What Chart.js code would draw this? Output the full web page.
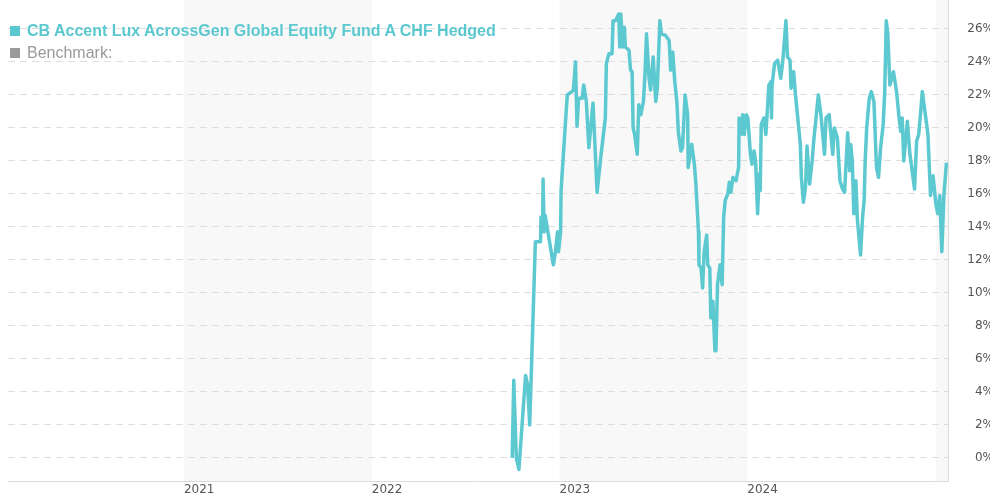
<!DOCTYPE html>
<html lang="en">
<head>
    <meta charset="UTF-8">
    <title>CB Accent Lux AcrossGen Global Equity Fund A CHF Hedged</title>
    <script src="https://cdn.jsdelivr.net/npm/chart.js"></script>
    <style>
        html, body {
            margin: 0;
            padding: 0;
            background: #fff;
            overflow: hidden;
        }

        .chart-wrap {
            position: relative;
            width: 994px;
            height: 500px;
        }

        /* Legend sits on top of the plot area */
        .legend {
            position: absolute;
            left: 10px;
            top: 20px;
            font-family: "Liberation Sans", Arial, sans-serif;
            font-size: 16px;
            line-height: 22px;
        }

        .legend .item { white-space: nowrap; }
        .legend .box {
            display: inline-block;
            width: 10px;
            height: 10px;
            margin-right: 7px;
            vertical-align: 0px;
        }
        .legend .fund { color: #5bc8d0; font-weight: bold; }
        .legend .fund .box { background: #5bc8d0; }
        .legend .bench { color: #9a9a9a; }
        .legend .bench .box { background: #9a9a9a; }
    </style>
</head>
<body>
    <div class="chart-wrap">
        <canvas id="perfChart"></canvas>
        <div class="legend">
            <div class="item fund"><span class="box"></span>CB Accent Lux AcrossGen Global Equity Fund A CHF Hedged</div>
            <div class="item bench"><span class="box"></span>Benchmark:</div>
        </div>
    </div>

    <script>
        // performance since launch, in %
        const fundDates = [
            '2022-10-01','2022-10-04','2022-10-09','2022-10-14','2022-10-27','2022-10-31','2022-11-04','2022-11-15',
            '2022-11-25','2022-11-26','2022-11-29','2022-11-30','2022-12-02','2022-12-04','2022-12-20','2022-12-24',
            '2022-12-28','2022-12-30',
            '2023-01-03','2023-01-04','2023-01-06','2023-01-16','2023-01-25','2023-01-28','2023-02-01','2023-02-04',
            '2023-02-07','2023-02-14','2023-02-17','2023-02-22','2023-02-27','2023-03-07','2023-03-15','2023-03-22',
            '2023-03-31','2023-04-02','2023-04-07','2023-04-13','2023-04-15','2023-04-20','2023-04-26','2023-04-28',
            '2023-04-30','2023-05-04','2023-05-07','2023-05-09','2023-05-16','2023-05-19','2023-05-22','2023-05-24',
            '2023-05-27','2023-06-01','2023-06-04','2023-06-08','2023-06-13','2023-06-16','2023-06-19','2023-06-24',
            '2023-06-27','2023-07-02','2023-07-07','2023-07-10','2023-07-15','2023-07-18','2023-07-26','2023-08-02',
            '2023-08-05','2023-08-09','2023-08-13','2023-08-17','2023-08-20','2023-08-25','2023-08-28','2023-09-02',
            '2023-09-07','2023-09-08','2023-09-15','2023-09-20','2023-09-23','2023-09-28','2023-09-29','2023-10-03',
            '2023-10-06','2023-10-09','2023-10-14','2023-10-16','2023-10-20','2023-10-22','2023-10-26','2023-10-30',
            '2023-11-01','2023-11-04','2023-11-09','2023-11-13','2023-11-16','2023-11-19','2023-11-24','2023-11-27',
            '2023-11-30','2023-12-04','2023-12-10','2023-12-15','2023-12-16','2023-12-20','2023-12-23','2023-12-26',
            '2023-12-30',
            '2024-01-02','2024-01-07','2024-01-10','2024-01-14','2024-01-17','2024-01-21','2024-01-24','2024-01-26',
            '2024-01-28','2024-02-02','2024-02-06','2024-02-12','2024-02-16','2024-02-17','2024-02-18','2024-02-23',
            '2024-02-29','2024-03-06','2024-03-10','2024-03-12','2024-03-16','2024-03-19','2024-03-24','2024-03-26',
            '2024-03-31','2024-04-03','2024-04-08','2024-04-13','2024-04-15','2024-04-19','2024-04-23','2024-04-26',
            '2024-05-01','2024-05-06','2024-05-09','2024-05-18','2024-05-23','2024-05-30','2024-06-02','2024-06-08',
            '2024-06-15','2024-06-18','2024-06-24','2024-06-29','2024-07-04','2024-07-08','2024-07-14','2024-07-18',
            '2024-07-20','2024-07-23','2024-07-26','2024-07-30','2024-08-02','2024-08-08','2024-08-12','2024-08-15',
            '2024-08-17','2024-08-20','2024-08-25','2024-08-29','2024-09-03','2024-09-08','2024-09-12','2024-09-16',
            '2024-09-21','2024-09-24','2024-09-27','2024-09-30','2024-10-04','2024-10-11','2024-10-17','2024-10-22',
            '2024-10-25','2024-10-28','2024-10-31','2024-11-07','2024-11-12','2024-11-21','2024-11-25','2024-11-29',
            '2024-12-03','2024-12-06','2024-12-12','2024-12-17','2024-12-22','2024-12-27',
            '2025-01-01','2025-01-05','2025-01-09','2025-01-13','2025-01-17','2025-01-22'
        ];

        const fundValues = [
            0.0, 4.7, 0.0, -0.7, 5.0, 4.4, 2.0, 13.1,
            13.1, 14.6, 13.7, 16.9, 13.7, 14.7, 11.7, 12.5,
            13.7, 12.5,
            13.7, 16.2, 17.2, 22.0, 22.2, 22.3, 24.0, 20.1,
            21.8, 21.8, 22.6, 21.6, 18.8, 21.5, 16.1, 18.2,
            20.6, 23.9, 24.5, 24.5, 26.5, 26.5, 26.9, 24.9,
            26.9, 24.9, 26.1, 24.9, 24.7, 23.5, 23.4, 20.0,
            19.6, 18.4, 21.4, 20.8, 21.6, 23.2, 25.7, 23.0,
            22.3, 24.3, 21.6, 22.4, 26.5, 25.7, 25.6, 25.3,
            23.5, 24.6, 22.8, 21.6, 19.7, 18.6, 18.8, 22.0,
            20.8, 17.6, 19.0, 17.8, 16.6, 13.7, 11.7, 11.5,
            10.3, 12.5, 13.5, 11.7, 11.5, 8.5, 9.5, 6.5,
            6.5, 10.5, 11.7, 10.5, 14.6, 15.6, 16.0, 16.7,
            16.1, 17.0, 16.8, 17.6, 20.6, 19.6, 20.8, 19.6,
            20.8,
            20.6, 18.4, 17.8, 18.6, 18.0, 14.8, 17.2, 16.2,
            20.2, 20.6, 19.6, 22.6, 22.8, 20.6, 22.6, 23.9,
            24.1, 23.0, 24.1, 24.9, 26.5, 24.3, 24.1, 22.4,
            23.4, 22.2, 20.6, 19.0, 17.0, 15.5, 16.4, 18.9,
            16.6, 18.0, 19.2, 22.0, 20.8, 18.4, 20.6, 20.8,
            18.4, 20.0, 19.4, 16.8, 16.3, 16.1, 19.7, 17.4,
            19.0, 18.0, 14.8, 16.8, 14.4, 12.3, 14.6, 15.6,
            18.0, 20.0, 21.8, 22.2, 21.6, 17.6, 17.0, 18.8,
            20.2, 22.2, 26.5, 25.7, 22.6, 23.4, 22.2, 20.6,
            19.8, 20.6, 18.0, 20.4, 18.4, 16.3, 19.2, 19.6,
            21.0, 22.2, 20.8, 19.6, 15.9, 17.1,
            15.5, 14.8, 15.9, 12.5, 15.9, 17.9
        ];

        const yTicks = [0, 2, 4, 6, 8, 10, 12, 14, 16, 18, 20, 22, 24, 26];
        const xTickYears = [2021, 2022, 2023, 2024];
        const shadedYears = [2021, 2023, 2025];

        const rangeStart = Date.parse('2020-01-25');
        const rangeEnd = Date.parse('2025-01-25');

        const lineColor = '#5cc8d0';

        // alternating light grey year bands behind the grid
        const yearBands = {
            id: 'yearBands',
            beforeDraw(chart) {
                const { ctx, chartArea, scales: { x } } = chart;
                ctx.save();
                ctx.fillStyle = '#f8f8f8';
                shadedYears.forEach(year => {
                    let x0 = x.getPixelForValue(Date.UTC(year, 0, 1));
                    let x1 = x.getPixelForValue(Date.UTC(year + 1, 0, 1));
                    x0 = Math.max(x0, chartArea.left);
                    x1 = Math.min(x1, chartArea.right);
                    if (x1 > x0) ctx.fillRect(x0, chartArea.top, x1 - x0, chartArea.bottom - chartArea.top);
                });
                ctx.restore();
            },
            afterDraw(chart) {
                // right frame line
                const { ctx, chartArea } = chart;
                ctx.save();
                ctx.strokeStyle = '#dcdcdc';
                ctx.lineWidth = 1;
                ctx.beginPath();
                ctx.moveTo(Math.round(chartArea.right) + 0.5, chartArea.top);
                ctx.lineTo(Math.round(chartArea.right) + 0.5, chartArea.bottom);
                ctx.stroke();
                ctx.restore();
            }
        };

        const points = fundDates.map((d, i) => ({ x: Date.parse(d), y: fundValues[i] }));

        new Chart(document.getElementById('perfChart'), {
            type: 'line',
            data: {
                datasets: [{
                    label: 'CB Accent Lux AcrossGen Global Equity Fund A CHF Hedged',
                    data: points,
                    borderColor: lineColor,
                    borderWidth: 3.5,
                    borderJoinStyle: 'round',
                    pointRadius: 0,
                    tension: 0,
                    fill: false
                }]
            },
            options: {
                responsive: true,
                maintainAspectRatio: false,
                animation: false,
                layout: { padding: { left: 8, top: 0, right: 0, bottom: 0 } },
                plugins: {
                    legend: { display: false },
                    tooltip: { enabled: false }
                },
                scales: {
                    x: {
                        type: 'linear',
                        min: rangeStart,
                        max: rangeEnd,
                        afterBuildTicks: scale => {
                            scale.ticks = xTickYears.map(y => ({ value: Date.UTC(y, 0, 1) }));
                        },
                        afterFit: scale => {
                            scale.height = 19;
                            scale.paddingLeft = 0;
                            scale.paddingRight = 0;
                        },
                        grid: { display: false, drawTicks: false },
                        border: { display: true, color: '#dcdcdc', width: 1 },
                        ticks: {
                            align: 'start',
                            padding: 2,
                            maxRotation: 0,
                            color: '#555',
                            font: { family: 'DejaVu Sans', size: 12 },
                            callback: v => new Date(v).getUTCFullYear()
                        }
                    },
                    y: {
                        position: 'right',
                        min: -1.4,
                        max: 27.75,
                        afterBuildTicks: scale => {
                            scale.ticks = yTicks.map(v => ({ value: v }));
                        },
                        afterFit: scale => {
                            scale.width = 46;
                            scale.paddingTop = 0;
                            scale.paddingBottom = 0;
                        },
                        grid: {
                            color: '#dedede',
                            lineWidth: 1,
                            drawTicks: false
                        },
                        border: { display: false, dash: [7, 5] },
                        ticks: {
                            crossAlign: 'far',
                            padding: 0,
                            color: '#555',
                            font: { family: 'DejaVu Sans', size: 12 },
                            callback: v => v + '%'
                        }
                    }
                }
            },
            plugins: [yearBands]
        });
    </script>
</body>
</html>
